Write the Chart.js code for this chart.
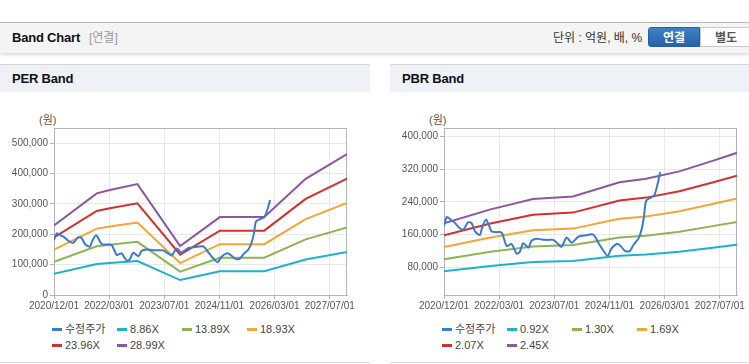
<!DOCTYPE html>
<html lang="ko">
<head>
  <meta charset="UTF-8" />
  <title>Band Chart</title>
  <script src="https://cdn.jsdelivr.net/npm/chart.js"></script>
  <style>
    body {
      margin: 0;
      width: 749px;
      height: 364px;
      background: #fff;
      font-family: 'Liberation Sans', 'Noto Sans CJK KR', sans-serif;
      position: relative;
      overflow: hidden;
    }
    .topbar {
      position: absolute; left: 0; top: 22px; width: 749px; height: 30px;
      background: #f4f4f4; border-top: 1px solid #b8b8b8;
      box-shadow: 0 2px 3px rgba(0,0,0,0.15);
    }
    .topbar .title { position: absolute; left: 12px; top: 0; line-height: 30px; font-size: 13px; font-weight: bold; color: #111; letter-spacing: -0.2px; }
    .topbar .sub { position: absolute; left: 89px; top: 0; line-height: 30px; font-size: 12px; color: #999; }
    .topbar .unit { position: absolute; left: 553px; top: 0; line-height: 30px; font-size: 12px; color: #333; }
    .btn { position: absolute; top: 4px; height: 20px; line-height: 20px; text-align: center; font-size: 12px; font-weight: bold; box-sizing: border-box; }
    .btn.on { left: 648px; width: 52px; background: linear-gradient(#3d82c8, #2663a9); color: #fff; border: 1px solid #2a5f9e; border-radius: 3px 0 0 3px; }
    .btn.off { left: 700px; width: 52px; background: #fff; color: #555; border: 1px solid #c8c8c8; }
    .panel {
      position: absolute; top: 64px; height: 297px;
      border-top: 1px solid #d6d6d6; border-bottom: 1px solid #dcdcdc;
      overflow: hidden; background: #fff;
    }
    .panel .head { height: 27px; line-height: 27px; background: #eef1f6; padding-left: 12px; font-size: 13px; font-weight: bold; color: #111; letter-spacing: -0.2px; }
    .panel canvas { position: absolute; left: 0; top: 28px; }
    .panel .unitw { position: absolute; left: 39px; top: 46px; font-size: 11px; color: #555; }
    .legend { position: absolute; left: 52px; top: 256px; width: 280px; }
    .legend .item { float: left; width: 65px; height: 16px; line-height: 16px; font-size: 11px; color: #444; white-space: nowrap; }
    .legend .item i { display: inline-block; width: 10px; height: 3px; margin-right: 3px; vertical-align: middle; position: relative; top: -1px; }
  </style>
</head>
<body>
<div class="topbar">
  <span class="title">Band Chart</span>
  <span class="sub">[연결]</span>
  <span class="unit">단위 : 억원, 배, %</span>
  <div class="btn on">연결</div>
  <div class="btn off">별도</div>
</div>

<div class="panel" style="left:0;width:370px">
  <div class="head">PER Band</div>
  <div class="unitw">(원)</div>
  <canvas id="perChart" width="370" height="225"></canvas>
  <div class="legend" id="perLegend"></div>
</div>

<div class="panel" style="left:390px;width:359px">
  <div class="head">PBR Band</div>
  <div class="unitw">(원)</div>
  <canvas id="pbrChart" width="370" height="225"></canvas>
  <div class="legend" id="pbrLegend"></div>
</div>

<script>
  // x positions: 0 = 2020/12/01, one gridline every 16 steps
  const xTickPos = [0, 16, 32, 48, 64, 80];
  const xTickLabels = ['2020/12/01', '2022/03/01', '2023/07/01', '2024/11/01', '2026/03/01', '2027/07/01'];
  const xMax = 85;

  const lineColors = ['#3a7bd0', '#1cb3c8', '#8db452', '#f5a536', '#d2302c', '#8e55a1'];

  // adjusted price (same for both charts)
  const priceX = [0, 0.8, 2, 3, 4.5, 5.6, 7, 8, 9, 10.4, 11, 12.2, 13.8, 15, 16.7, 18.2, 19.6, 21.1, 22, 23, 24.5, 25.4, 26.9, 28.3,
                  30, 31.7, 33.2, 34.1, 35.6, 37, 39, 41, 43.3, 44.8, 46.2, 47.5, 48.6, 50.1, 51, 52.5, 53.8, 55, 56.4, 57.3, 58,
                  58.6, 59.8, 61, 62, 62.7];
  const priceY = [181000, 203000, 196000, 190000, 176000, 172000, 190000, 188000, 168000, 159000, 175000, 197000, 168000, 166000,
                  165000, 132000, 137000, 113000, 118000, 139000, 128000, 145000, 150000, 148000, 147000, 147000, 136000, 130000,
                  153000, 140000, 155000, 158000, 160000, 140000, 121000, 108000, 126000, 137000, 134000, 120000, 119000, 135000,
                  150000, 172000, 203000, 242000, 250000, 256000, 285000, 313000];

  // PER bands
  const perLabels = ['수정주가', '8.86X', '13.89X', '18.93X', '23.96X', '28.99X'];
  const perBandX = [0, 12.4, 16.2, 24.2, 36.6, 48.1, 61, 73, 85];
  const per886 = [70000, 102300, 105700, 111600, 49200, 78400, 78400, 117000, 141800];
  const per1389 = [109700, 160400, 165700, 175000, 77100, 122900, 122900, 183300, 222200];
  const per1893 = [149500, 218600, 225800, 238500, 105100, 167500, 167500, 249900, 302900];
  const per2396 = [189300, 276700, 285800, 301900, 133000, 212000, 212000, 316300, 383400];
  const per2899 = [229000, 334800, 345900, 365300, 160900, 256600, 256600, 382700, 463800];
  const perYTicks = [0, 100000, 200000, 300000, 400000, 500000];

  // PBR bands
  const pbrLabels = ['수정주가', '0.92X', '1.30X', '1.69X', '2.07X', '2.45X'];
  const pbrBandX = [0, 13.5, 25.8, 37.4, 50.9, 58.6, 68.3, 77.9, 85];
  const pbr092 = [70400, 83300, 92700, 95000, 108100, 111300, 118200, 127900, 135200];
  const pbr130 = [99500, 117700, 131000, 134300, 152800, 157300, 167100, 180700, 191100];
  const pbr169 = [129300, 152900, 170400, 174600, 198600, 204500, 217200, 234900, 248400];
  const pbr207 = [158400, 187300, 208700, 213800, 243200, 250500, 266000, 287700, 304300];
  const pbr245 = [187400, 221700, 247000, 253100, 287900, 296500, 314800, 340600, 360200];
  const pbrYTicks = [80000, 160000, 240000, 320000, 400000];

  const fontFamily = "'Liberation Sans', 'Noto Sans CJK KR', sans-serif";

  function pts(xs, ys) {
    return xs.map((x, i) => ({ x: x, y: ys[i] }));
  }

  const framePlugin = {
    id: 'frame',
    beforeDatasetsDraw(chart) {
      const a = chart.chartArea;
      const ctx = chart.ctx;
      ctx.save();
      ctx.strokeStyle = '#b4b4b4';
      ctx.lineWidth = 1;
      ctx.strokeRect(Math.round(a.left) + 0.5, Math.round(a.top) + 0.5, Math.round(a.right - a.left) - 1, Math.round(a.bottom - a.top));
      ctx.restore();
    }
  };

  function makeChart(canvasId, legendId, labels, bandX, bands, yMin, yMax, yTicks) {
    const datasets = [{
      label: labels[0],
      data: pts(priceX, priceY),
      borderColor: lineColors[0],
      borderWidth: 2,
      tension: 0.25
    }];
    bands.forEach((b, i) => {
      datasets.push({
        label: labels[i + 1],
        data: pts(bandX, b),
        borderColor: lineColors[i + 1],
        borderWidth: 2,
        tension: 0
      });
    });

    const chart = new Chart(document.getElementById(canvasId), {
      type: 'line',
      data: { datasets: datasets },
      options: {
        responsive: false,
        animation: false,
        layout: { padding: { top: 35, right: 23, left: 0, bottom: 0 } },
        elements: { point: { radius: 0 } },
        plugins: { legend: { display: false }, tooltip: { enabled: false } },
        scales: {
          x: {
            type: 'linear',
            min: 0,
            max: xMax,
            afterBuildTicks: s => { s.ticks = xTickPos.map(v => ({ value: v })); },
            afterFit: s => { s.height = 23; },
            ticks: {
              autoSkip: false,
              maxRotation: 0,
              padding: 1,
              color: '#555',
              font: { size: 10, family: fontFamily },
              callback: v => xTickLabels[xTickPos.indexOf(v)]
            },
            grid: { color: '#e8e8e8', tickColor: '#b4b4b4', tickLength: 4 },
            border: { color: '#b4b4b4' }
          },
          y: {
            min: yMin,
            max: yMax,
            afterBuildTicks: s => { s.ticks = yTicks.map(v => ({ value: v })); },
            afterFit: s => { s.width = 54; },
            ticks: {
              padding: 2,
              color: '#555',
              font: { size: 10, family: fontFamily },
              callback: v => v.toLocaleString('en-US')
            },
            grid: { color: '#e8e8e8', tickColor: '#b4b4b4', tickLength: 4 },
            border: { color: '#b4b4b4' }
          }
        }
      },
      plugins: [framePlugin]
    });

    const legend = document.getElementById(legendId);
    chart.data.datasets.forEach(ds => {
      const item = document.createElement('div');
      item.className = 'item';
      item.innerHTML = '<i style="background:' + ds.borderColor + '"></i>' + ds.label;
      legend.appendChild(item);
    });
  }

  makeChart('perChart', 'perLegend', perLabels, perBandX, [per886, per1389, per1893, per2396, per2899], 0, 550000, perYTicks);
  makeChart('pbrChart', 'pbrLegend', pbrLabels, pbrBandX, [pbr092, pbr130, pbr169, pbr207, pbr245], 12000, 421000, pbrYTicks);
</script>
</body>
</html>
